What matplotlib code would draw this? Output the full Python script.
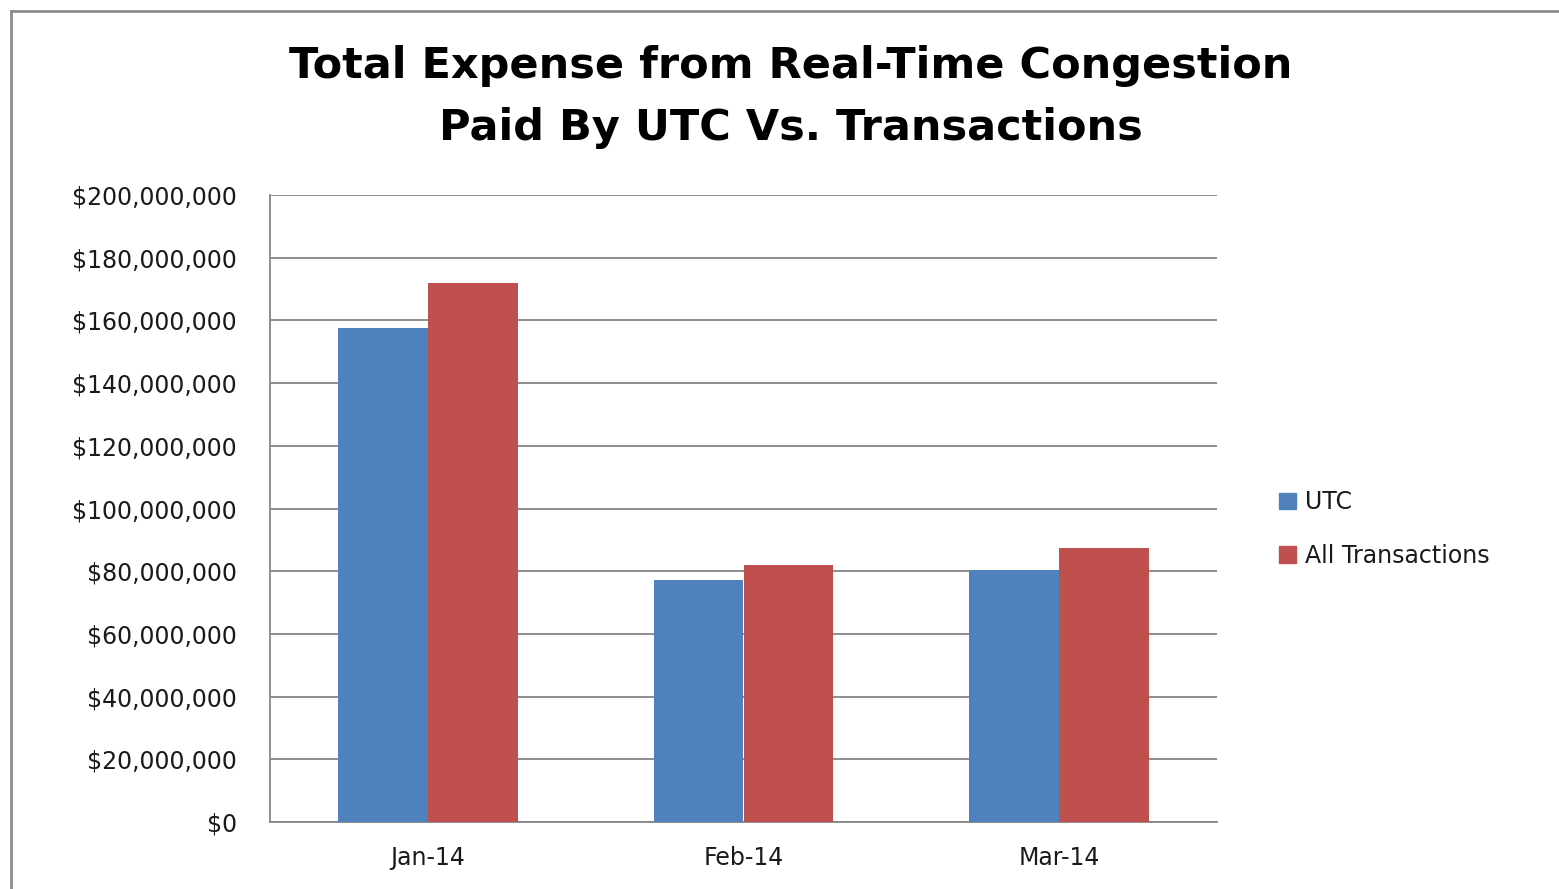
import matplotlib
matplotlib.use("Agg")
import matplotlib.pyplot as plt
import numpy as np
from matplotlib.ticker import FuncFormatter, MultipleLocator
from matplotlib.lines import Line2D
from matplotlib.patches import Patch

categories = ["Jan-14", "Feb-14", "Mar-14"]
utc = [157600000, 77200000, 80400000]
all_tx = [171900000, 82000000, 87400000]
series_names = ["UTC", "All Transactions"]
title_lines = ["Total Expense from Real-Time Congestion", "Paid By UTC Vs. Transactions"]

fig = plt.figure(figsize=(15.59, 8.89), dpi=100)
fig.patch.set_facecolor("white")

# outer frame lines (chart border)
fig.add_artist(Line2D([11/1559, 11/1559], [0, 1 - 11/889], transform=fig.transFigure, color="#8c8c8c", lw=2))
fig.add_artist(Line2D([11/1559, 1], [1 - 11/889, 1 - 11/889], transform=fig.transFigure, color="#8c8c8c", lw=2))

ax = fig.add_axes([270/1559, 1 - 822/889, (1217 - 270)/1559, (822 - 195)/889])
x = np.arange(len(categories))
w = 0.285
ax.bar(x - w/2, utc, w, color="#4F81BD", label=series_names[0], zorder=3)
ax.bar(x + w/2, all_tx, w, color="#C0504D", label=series_names[1], zorder=3)

ax.set_xlim(-0.5, 2.5)
ax.set_ylim(0, 200000000)
ax.yaxis.set_major_locator(MultipleLocator(20000000))
ax.yaxis.set_major_formatter(FuncFormatter(lambda v, p: "${:,.0f}".format(v)))
ax.grid(axis="y", color="#868686", lw=1.3, zorder=0)
ax.set_xticks(x)
ax.set_xticklabels(categories)
for s in ["top", "right"]:
    ax.spines[s].set_visible(False)
for s in ["left", "bottom"]:
    ax.spines[s].set_color("#868686")
    ax.spines[s].set_linewidth(1.3)
ax.tick_params(axis="y", length=0, labelsize=17, pad=24, labelcolor="#1a1a1a")
ax.tick_params(axis="x", length=0, labelsize=17, pad=17, labelcolor="#1a1a1a")

fig.text(0.507, 1 - 66/889, title_lines[0], ha="center", va="center", fontsize=31, fontweight="bold")
fig.text(0.507, 1 - 128/889, title_lines[1], ha="center", va="center", fontsize=31, fontweight="bold")

handles = [Patch(color="#4F81BD"), Patch(color="#C0504D")]
fig.legend(handles, series_names, loc="center left", bbox_to_anchor=(1258/1559, 1 - 529/889),
           frameon=False, fontsize=17, handlelength=0.7, handleheight=0.7, handletextpad=0.4,
           labelspacing=1.25, labelcolor="#1a1a1a")

fig.savefig("out.png", dpi=100)
